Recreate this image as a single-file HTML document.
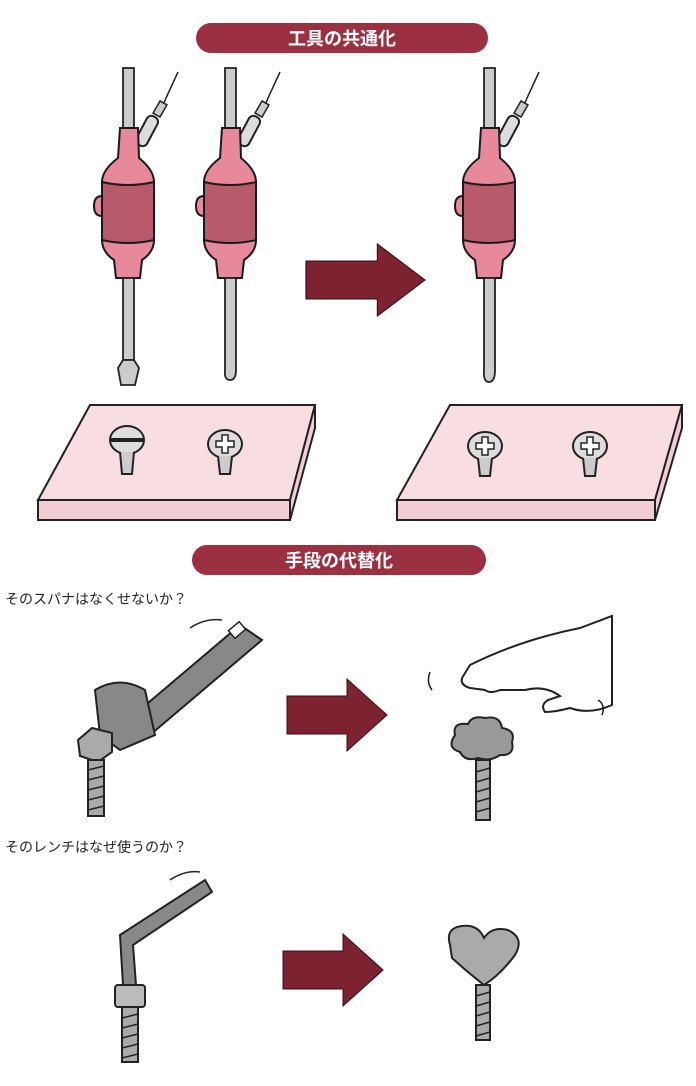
<!DOCTYPE html>
<html><head><meta charset="utf-8"><style>
body{margin:0;background:#fff;width:696px;height:1086px;overflow:hidden}
svg{display:block}
text{font-family:"Liberation Sans","Noto Sans CJK JP",sans-serif}
</style></head><body>
<svg width="696" height="1086" viewBox="0 0 696 1086" xmlns="http://www.w3.org/2000/svg">
<defs>
<g id="sd">
  <path d="M50 12 L38 38 L34 48" stroke="#222" stroke-width="1.5" fill="none"/>
  <rect x="28" y="42" width="8" height="14" fill="#ccc" stroke="#222" stroke-width="1.5" transform="rotate(30 32 49)"/>
  <rect x="13" y="55" width="12" height="32" rx="5" fill="#ddd" stroke="#222" stroke-width="2" transform="rotate(28 19 71)"/>
  <rect x="-5" y="8" width="11" height="62" fill="#ccc" stroke="#222" stroke-width="1.8"/>
  <path d="M-8 68 L10 68 L11 98 Q26 110 26 122 L26 180 Q26 192 14 200 L12 218 L-12 218 L-14 200 Q-26 192 -26 180 L-26 122 Q-26 110 -10 98 Z" fill="#e8899b" stroke="#1a1a1a" stroke-width="2"/>
  <path d="M-26 122 Q0 128 26 122 L26 180 Q0 186 -26 180 Z" fill="#b85a6c" stroke="#1a1a1a" stroke-width="2"/>
  <path d="M-26 136 Q-34 136 -34 146 Q-34 156 -26 156 Z" fill="#e8899b" stroke="#1a1a1a" stroke-width="2"/>
</g>
<g id="arr"><path d="M0 -19 L60 -19 L60 -36 L100 0 L60 36 L60 19 L0 19 Z" fill="#7d2231" stroke="#3a0c14" stroke-width="1"/></g>
<g id="phil"><ellipse cx="0" cy="0" rx="17" ry="14" fill="#ddd" stroke="#222" stroke-width="2"/><path d="M-3 -9 h6 v6 h6 v6 h-6 v6 h-6 v-6 h-6 v-6 h6z" fill="#fff" stroke="#222" stroke-width="1.5"/><path d="M-7 12 L-5 30 L5 30 L7 12" fill="#ccc" stroke="#222" stroke-width="2"/></g>
</defs>

<rect x="196" y="23" width="292" height="30" rx="15" fill="#9a3040"/>
<text x="342" y="45" text-anchor="middle" font-size="18" font-weight="bold" fill="#fff">工具の共通化</text>

<use href="#sd" x="128" y="60"/>
<rect x="123" y="278" width="11" height="82" fill="#ccc" stroke="#222" stroke-width="1.8"/>
<path d="M123 360 L118 368 L121 385 L135 385 L139 368 L134 360 Z" fill="#ccc" stroke="#222" stroke-width="1.8"/>
<use href="#sd" x="230" y="60"/>
<path d="M225 278 L236 278 L236 370 Q236 380 230 380 Q224 380 225 370 Z" fill="#ccc" stroke="#222" stroke-width="1.8"/>
<use href="#sd" x="489" y="60"/>
<path d="M484 278 L495 278 L495 370 Q495 382 489 382 Q483 382 484 370 Z" fill="#ccc" stroke="#222" stroke-width="1.8"/>

<use href="#arr" transform="translate(306 280) scale(1.19 1)"/>

<path d="M90 405 L315 405 L290 500 L38 500 Z" fill="#f8dde2" stroke="#222" stroke-width="2"/>
<path d="M38 500 L290 500 L290 520 L38 520 Z" fill="#f3cdd4" stroke="#222" stroke-width="2"/>
<path d="M290 500 L315 405 L315 428 L290 520 Z" fill="#f3cdd4" stroke="#222" stroke-width="2"/>
<ellipse cx="127" cy="440" rx="17" ry="14" fill="#ddd" stroke="#222" stroke-width="2"/>
<path d="M111 440 L143 440" stroke="#222" stroke-width="4"/>
<path d="M120 452 L122 474 L132 474 L134 452" fill="#ccc" stroke="#222" stroke-width="2"/>
<use href="#phil" x="225" y="444"/>

<path d="M450 405 L682 405 L655 500 L397 500 Z" fill="#f8dde2" stroke="#222" stroke-width="2"/>
<path d="M397 500 L655 500 L655 520 L397 520 Z" fill="#f3cdd4" stroke="#222" stroke-width="2"/>
<path d="M655 500 L682 405 L682 428 L655 520 Z" fill="#f3cdd4" stroke="#222" stroke-width="2"/>
<use href="#phil" x="485" y="446"/>
<use href="#phil" x="590" y="446"/>

<rect x="192" y="545" width="294" height="30" rx="15" fill="#9a3040"/>
<text x="339" y="567" text-anchor="middle" font-size="18" font-weight="bold" fill="#fff">手段の代替化</text>

<text x="5" y="604" font-size="14" fill="#222">そのスパナはなくせないか？</text>

<path d="M240 625 L262 640 L150 735 L128 720 Z" fill="#888" stroke="#222" stroke-width="2"/>
<rect x="230" y="625" width="14" height="10" fill="#fff" stroke="#222" stroke-width="1.5" transform="rotate(-40 237 630)"/>
<path d="M95 690 Q120 675 145 690 L155 735 L120 750 L100 735 Z" fill="#888" stroke="#222" stroke-width="2"/>
<path d="M78 740 L92 728 L112 733 L112 752 L98 762 L80 756 Z" fill="#aaa" stroke="#222" stroke-width="2"/>
<rect x="88" y="760" width="16" height="56" fill="#aaa" stroke="#222" stroke-width="2"/>
<path d="M88 770 L104 766 M88 780 L104 776 M88 790 L104 786 M88 800 L104 796 M88 810 L104 806" stroke="#222" stroke-width="1.5"/>
<path d="M190 628 Q205 618 222 620" stroke="#222" fill="none" stroke-width="1.5"/>

<use href="#arr" x="287" y="715"/>

<path d="M470 665 Q520 640 580 628 L612 616 L612 705 Q590 715 570 708 Q555 712 545 712 Q540 705 548 700 L560 696 Q545 685 525 690 L500 690 Q490 694 485 690 L470 688 Q460 685 462 678 Z" fill="#fff" stroke="#222" stroke-width="2"/>
<path d="M430 672 Q426 682 432 690 M598 700 Q606 705 602 715" stroke="#222" fill="none" stroke-width="1.5"/>
<path d="M455 735 Q452 722 468 724 Q472 715 485 718 Q500 715 502 728 Q516 730 512 742 Q515 756 500 755 Q490 762 478 758 Q465 762 460 752 Q446 748 455 735 Z" fill="#999" stroke="#222" stroke-width="2"/>
<rect x="476" y="760" width="14" height="60" fill="#aaa" stroke="#222" stroke-width="2"/>
<path d="M476 772 L490 768 M476 782 L490 778 M476 792 L490 788 M476 802 L490 798 M476 812 L490 808" stroke="#222" stroke-width="1.5"/>

<text x="5" y="852" font-size="14" fill="#222">そのレンチはなぜ使うのか？</text>

<path d="M120 935 L205 880 L212 892 L133 945 L136 985 L123 985 Z" fill="#888" stroke="#222" stroke-width="2"/>
<path d="M170 880 Q185 870 200 872" stroke="#222" fill="none" stroke-width="1.5"/>
<rect x="115" y="985" width="30" height="22" rx="3" fill="#bbb" stroke="#222" stroke-width="2"/>
<rect x="122" y="1007" width="16" height="55" fill="#aaa" stroke="#222" stroke-width="2"/>
<path d="M122 1018 L138 1014 M122 1028 L138 1024 M122 1038 L138 1034 M122 1048 L138 1044 M122 1058 L138 1054" stroke="#222" stroke-width="1.5"/>

<use href="#arr" x="283" y="970"/>

<path d="M450 945 Q445 928 462 926 Q478 924 484 938 Q492 926 508 930 Q525 938 515 955 Q500 975 484 985 Q465 970 452 958 Z" fill="#aaa" stroke="#222" stroke-width="2"/>
<rect x="476" y="985" width="14" height="55" fill="#aaa" stroke="#222" stroke-width="2"/>
<path d="M476 996 L490 992 M476 1006 L490 1002 M476 1016 L490 1012 M476 1026 L490 1022 M476 1036 L490 1032" stroke="#222" stroke-width="1.5"/>
</svg>
</body></html>
